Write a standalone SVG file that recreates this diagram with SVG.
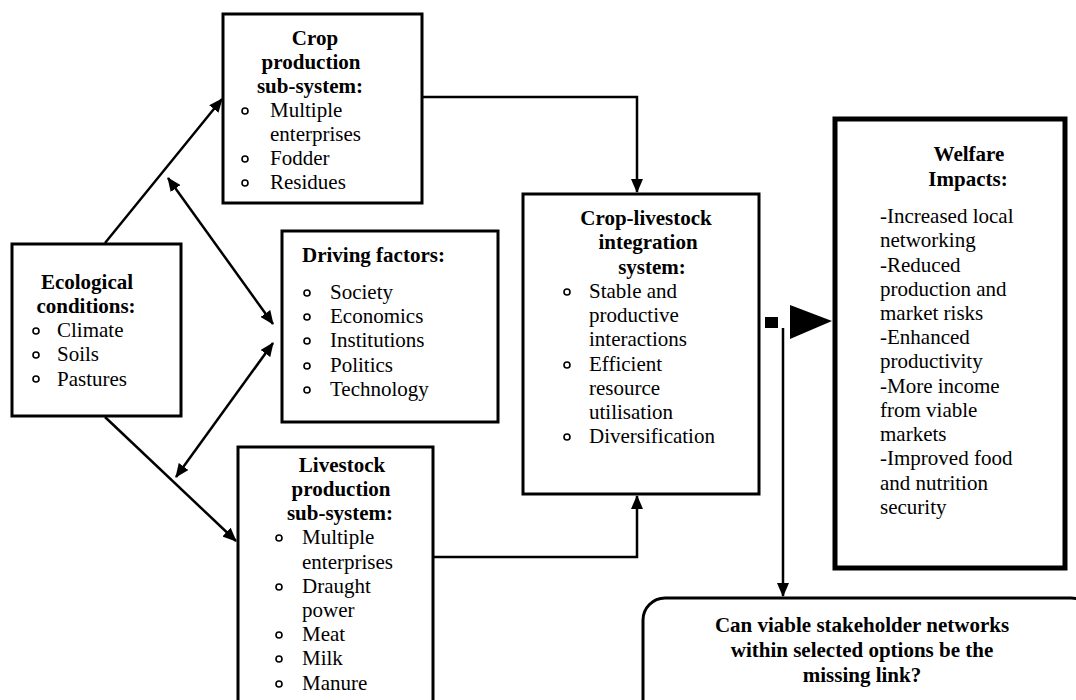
<svg xmlns="http://www.w3.org/2000/svg" width="1076" height="700" viewBox="0 0 1076 700">
<defs>
<style>
.box{fill:#fff;stroke:#000;stroke-width:3}
.t{font-family:'Liberation Serif','Times New Roman','DejaVu Serif',serif;font-size:21px;fill:#000}
.b{font-weight:bold}
.c{text-anchor:middle}
.bl{fill:none;stroke:#000;stroke-width:1.6}
.con{fill:none;stroke:#000;stroke-width:2.5}
</style>
<marker id="ah" markerUnits="userSpaceOnUse" markerWidth="14" markerHeight="12" refX="13" refY="6" orient="auto-start-reverse" viewBox="0 0 14 12">
<path d="M0,0 L14,6 L0,12 z" fill="#000"/>
</marker>
</defs>
<rect width="1076" height="700" fill="#fff"/>

<g id="connectors">
<line class="con" x1="105" y1="243" x2="222" y2="99" marker-end="url(#ah)"/>
<line class="con" x1="105" y1="417" x2="236" y2="541" marker-end="url(#ah)"/>
<line class="con" x1="168" y1="178" x2="273" y2="324" marker-start="url(#ah)" marker-end="url(#ah)"/>
<line class="con" x1="273" y1="343" x2="176" y2="477" marker-start="url(#ah)" marker-end="url(#ah)"/>
<polyline class="con" points="422,97 637,97 637,192" marker-end="url(#ah)"/>
<polyline class="con" points="433,557 637,557 637,496" marker-end="url(#ah)"/>
<rect x="765" y="317" width="13" height="11" fill="#000"/>
<polygon points="790,305 832,321 790,339" fill="#000"/>
<line class="con" x1="783" y1="328" x2="783" y2="596" marker-end="url(#ah)"/>
</g>

<g id="ecological" font-family="Liberation Serif, Times New Roman, DejaVu Serif, serif">
<rect class="box" x="12" y="244" width="169" height="172"/>
<text class="t b c" x="87" y="289">Ecological</text>
<text class="t b c" x="86" y="313">conditions:</text>
<circle class="bl" cx="36" cy="331" r="3"/>
<text class="t" x="57" y="337">Climate</text>
<circle class="bl" cx="36" cy="355" r="3"/>
<text class="t" x="57" y="361">Soils</text>
<circle class="bl" cx="36" cy="379" r="3"/>
<text class="t" x="57" y="386">Pastures</text>
</g>

<g id="crop">
<rect class="box" x="223" y="14" width="199" height="189"/>
<text class="t b c" x="315" y="45">Crop</text>
<text class="t b c" x="311" y="69">production</text>
<text class="t b c" x="310" y="93">sub-system:</text>
<circle class="bl" cx="245" cy="111" r="3"/>
<text class="t" x="270" y="117">Multiple</text>
<text class="t" x="270" y="141">enterprises</text>
<circle class="bl" cx="245" cy="159" r="3"/>
<text class="t" x="270" y="165">Fodder</text>
<circle class="bl" cx="245" cy="183" r="3"/>
<text class="t" x="270" y="189">Residues</text>
</g>

<g id="driving">
<rect class="box" x="282" y="231" width="216" height="191"/>
<text class="t b" x="302" y="262">Driving factors:</text>
<circle class="bl" cx="307" cy="293" r="3"/>
<text class="t" x="330" y="299">Society</text>
<circle class="bl" cx="307" cy="317" r="3"/>
<text class="t" x="330" y="323">Economics</text>
<circle class="bl" cx="307" cy="341" r="3"/>
<text class="t" x="330" y="347">Institutions</text>
<circle class="bl" cx="307" cy="366" r="3"/>
<text class="t" x="330" y="372">Politics</text>
<circle class="bl" cx="307" cy="390" r="3"/>
<text class="t" x="330" y="396">Technology</text>
</g>

<g id="livestock">
<rect class="box" x="238" y="447" width="195" height="270"/>
<text class="t b c" x="342" y="472">Livestock</text>
<text class="t b c" x="341" y="496">production</text>
<text class="t b c" x="340" y="520">sub-system:</text>
<circle class="bl" cx="279" cy="538" r="3"/>
<text class="t" x="302" y="544">Multiple</text>
<text class="t" x="302" y="569">enterprises</text>
<circle class="bl" cx="279" cy="587" r="3"/>
<text class="t" x="302" y="593">Draught</text>
<text class="t" x="302" y="617">power</text>
<circle class="bl" cx="279" cy="635" r="3"/>
<text class="t" x="302" y="641">Meat</text>
<circle class="bl" cx="279" cy="659" r="3"/>
<text class="t" x="302" y="665">Milk</text>
<circle class="bl" cx="279" cy="684" r="3"/>
<text class="t" x="302" y="690">Manure</text>
</g>

<g id="integration">
<rect class="box" x="523" y="194" width="236" height="300"/>
<text class="t b c" x="646" y="225">Crop-livestock</text>
<text class="t b c" x="648" y="249">integration</text>
<text class="t b c" x="652" y="274">system:</text>
<circle class="bl" cx="567" cy="292" r="3"/>
<text class="t" x="589" y="298">Stable and</text>
<text class="t" x="589" y="322">productive</text>
<text class="t" x="589" y="346">interactions</text>
<circle class="bl" cx="567" cy="365" r="3"/>
<text class="t" x="589" y="371">Efficient</text>
<text class="t" x="589" y="395">resource</text>
<text class="t" x="589" y="419">utilisation</text>
<circle class="bl" cx="567" cy="437" r="3"/>
<text class="t" x="589" y="443">Diversification</text>
</g>

<g id="welfare">
<rect x="835" y="119" width="230" height="449" fill="#fff" stroke="#000" stroke-width="5"/>
<text class="t b c" x="969" y="161">Welfare</text>
<text class="t b c" x="968" y="186">Impacts:</text>
<text class="t" x="880" y="223">-Increased local</text>
<text class="t" x="880" y="247">networking</text>
<text class="t" x="880" y="272">-Reduced</text>
<text class="t" x="880" y="296">production and</text>
<text class="t" x="880" y="320">market risks</text>
<text class="t" x="880" y="344">-Enhanced</text>
<text class="t" x="880" y="368">productivity</text>
<text class="t" x="880" y="393">-More income</text>
<text class="t" x="880" y="417">from viable</text>
<text class="t" x="880" y="441">markets</text>
<text class="t" x="880" y="465">-Improved food</text>
<text class="t" x="880" y="490">and nutrition</text>
<text class="t" x="880" y="514">security</text>
</g>

<g id="question">
<rect x="643" y="598" width="450" height="140" rx="22" ry="22" fill="#fff" stroke="#000" stroke-width="3"/>
<text class="t b c" x="862" y="632">Can viable stakeholder networks</text>
<text class="t b c" x="862" y="657">within selected options be the</text>
<text class="t b c" x="862" y="682">missing link?</text>
</g>
</svg>
